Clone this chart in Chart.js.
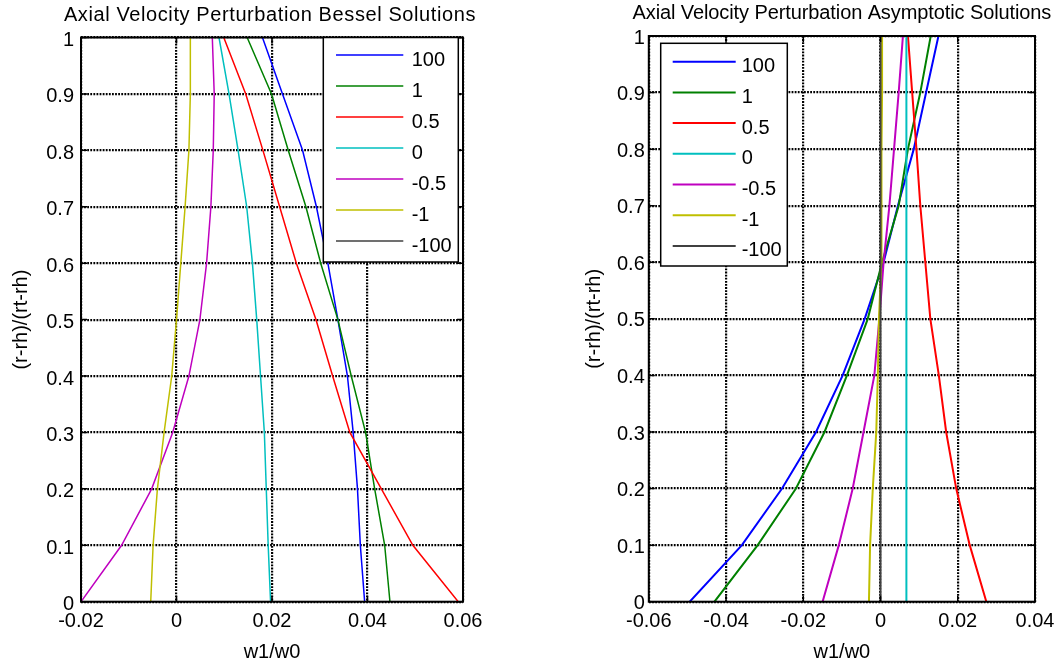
<!DOCTYPE html>
<html>
<head>
<meta charset="utf-8">
<title>Axial Velocity Perturbation</title>
<script src="https://cdn.jsdelivr.net/npm/chart.js@4.4.0/dist/chart.umd.min.js"></script>
<style>
    body { margin: 0; background: #fff; }
    #wrap { position: relative; width: 1057px; height: 666px; }
    .pane { position: absolute; top: 0; }
</style>
</head>
<body>
<div id="wrap">
    <div class="pane" style="left:0"><canvas id="besselChart" width="530" height="666"></canvas></div>
    <div class="pane" style="left:530px"><canvas id="asymChart" width="527" height="666"></canvas></div>
</div>
<script>
// Span stations (r-rh)/(rt-rh)
const span = [0, 0.1, 0.2, 0.3, 0.4, 0.5, 0.6, 0.7, 0.8, 0.9, 1];

// Legend entries and MATLAB line colours
const seriesNames = ['100', '1', '0.5', '0', '-0.5', '-1', '-100'];
const lineColors = ['#0000ff', '#008000', '#ff0000', '#00bfbf', '#bf00bf', '#bfbf00', '#404040'];

// Bessel solutions: w1/w0 at each span station
const bessel100 = [0.0394, 0.0385, 0.0379, 0.0370, 0.0358, 0.0338, 0.0317, 0.0293, 0.0264, 0.0222, 0.0180];
const bessel1 = [0.0447, 0.0436, 0.0415, 0.0396, 0.0366, 0.0338, 0.0302, 0.0271, 0.0234, 0.0199, 0.0148];
const besselHalf = [0.0590, 0.0495, 0.0429, 0.0363, 0.0327, 0.0292, 0.0251, 0.0216, 0.0181, 0.0145, 0.0099];
const bessel0 = [0.0197, 0.0192, 0.0188, 0.0184, 0.0176, 0.0168, 0.0159, 0.0147, 0.0129, 0.0110, 0.0089];
const besselNegHalf = [-0.0200, -0.0115, -0.0052, -0.0008, 0.0026, 0.0049, 0.0063, 0.0072, 0.0077, 0.0079, 0.0075];
const besselNeg1 = [-0.0054, -0.0049, -0.0040, -0.0026, -0.0010, 0.0000, 0.0009, 0.0018, 0.0026, 0.0029, 0.0029];
const besselNeg100 = [];

// Asymptotic solutions: w1/w0 at each span station
const asym100 = [-0.0494, -0.0359, -0.0255, -0.0167, -0.0098, -0.0041, 0.0008, 0.0045, 0.0086, 0.0118, 0.0150];
const asym1 = [-0.0430, -0.0318, -0.0219, -0.0145, -0.0087, -0.0033, 0.0004, 0.0047, 0.0071, 0.0103, 0.0130];
const asymHalf = [0.0274, 0.0231, 0.0196, 0.0170, 0.0151, 0.0129, 0.0116, 0.0103, 0.0093, 0.0082, 0.0071];
const asym0 = [0.0067, 0.0067, 0.0067, 0.0067, 0.0067, 0.0067, 0.0067, 0.0067, 0.0067, 0.0067, 0.0067];
const asymNegHalf = [-0.0150, -0.0108, -0.0072, -0.0044, -0.0016, -0.0003, 0.0008, 0.0023, 0.0035, 0.0047, 0.0058];
const asymNeg1 = [-0.0030, -0.0027, -0.0020, -0.0011, -0.0007, -0.0004, 0.0002, 0.0002, 0.0003, 0.0004, 0.0004];
const asymNeg100 = [0, 0, 0, 0, 0, 0, 0, 0, 0, 0, 0];

Chart.defaults.font.family = "'Liberation Sans', Arial, sans-serif";
Chart.defaults.font.size = 20;
Chart.defaults.color = '#000';

// Box, inward tick marks and title, MATLAB style
const axesFrame = {
    id: 'axesFrame',
    afterDatasetsDraw(chart, args, opts) {
        const ctx = chart.ctx;
        const a = chart.chartArea;
        const sx = chart.scales.x, sy = chart.scales.y;
        ctx.save();
        ctx.setLineDash([]);
        ctx.strokeStyle = '#000';
        ctx.lineWidth = 1.5;
        ctx.beginPath();
        sx.ticks.forEach(t => {
            const px = sx.getPixelForValue(t.value);
            ctx.moveTo(px, a.bottom); ctx.lineTo(px, a.bottom - 6);
            ctx.moveTo(px, a.top); ctx.lineTo(px, a.top + 6);
        });
        sy.ticks.forEach(t => {
            const py = sy.getPixelForValue(t.value);
            ctx.moveTo(a.left, py); ctx.lineTo(a.left + 6, py);
            ctx.moveTo(a.right, py); ctx.lineTo(a.right - 6, py);
        });
        ctx.stroke();
        ctx.lineWidth = 2;
        ctx.strokeRect(a.left, a.top, a.right - a.left, a.bottom - a.top);

        ctx.fillStyle = '#000';
        ctx.font = "20px 'Liberation Sans', Arial, sans-serif";
        ctx.letterSpacing = opts.spacing + 'px';
        ctx.textAlign = 'center';
        ctx.textBaseline = 'middle';
        ctx.fillText(opts.text, (a.left + a.right) / 2 + opts.dx, opts.y);
        ctx.restore();
    }
};

// Boxed legend drawn inside the axes
const boxLegend = {
    id: 'boxLegend',
    afterDraw(chart, args, opts) {
        const ctx = chart.ctx;
        const [x1, y1, x2, y2] = opts.box;
        ctx.save();
        ctx.fillStyle = '#fff';
        ctx.fillRect(x1, y1, x2 - x1, y2 - y1);
        ctx.strokeStyle = '#000';
        ctx.lineWidth = 1.5;
        ctx.strokeRect(x1, y1, x2 - x1, y2 - y1);
        ctx.font = "20px 'Liberation Sans', Arial, sans-serif";
        ctx.textAlign = 'left';
        ctx.textBaseline = 'middle';
        chart.data.datasets.forEach((ds, i) => {
            const y = opts.firstRow + i * opts.rowStep;
            ctx.strokeStyle = ds.borderColor;
            ctx.lineWidth = ds.borderWidth;
            ctx.beginPath();
            ctx.moveTo(opts.lineX[0], y);
            ctx.lineTo(opts.lineX[1], y);
            ctx.stroke();
            ctx.fillStyle = '#000';
            ctx.fillText(ds.label, opts.textX, y + 5);
        });
        ctx.restore();
    }
};

function toPoints(values) {
    return values.map((v, i) => ({ x: v, y: span[i] }));
}

function makeChart(id, cfg) {
    // later series are drawn on top, as plot() does
    const datasets = cfg.series.map((vals, i) => ({
        label: seriesNames[i],
        data: toPoints(vals),
        showLine: true,
        borderColor: lineColors[i],
        borderWidth: cfg.lineWidth,
        pointRadius: 0,
        fill: false,
        tension: 0,
        order: cfg.series.length - i
    }));

    return new Chart(document.getElementById(id).getContext('2d'), {
        type: 'scatter',
        data: { datasets: datasets },
        options: {
            responsive: false,
            animation: false,
            events: [],
            layout: { padding: { left: cfg.padLeft, right: cfg.padRight, top: cfg.padTop, bottom: 0 } },
            scales: {
                x: {
                    type: 'linear',
                    min: cfg.xMin,
                    max: cfg.xMax,
                    afterFit: s => {
                        s.height = 666 - cfg.plotBottom;
                        s.paddingLeft = 0;
                        s.paddingRight = 0;
                    },
                    ticks: {
                        stepSize: 0.02,
                        padding: 8,
                        maxRotation: 0,
                        autoSkip: false,
                        callback: v => String(Number(v.toFixed(2)))
                    },
                    grid: { color: '#000', lineWidth: 2.2, drawTicks: false },
                    border: { display: false, dash: [1.8, 1.3] },
                    title: { display: true, text: 'w1/w0', padding: { top: 4, bottom: 2 } }
                },
                y: {
                    type: 'linear',
                    min: 0,
                    max: 1,
                    afterFit: s => {
                        s.width = cfg.yAxisWidth;
                        s.paddingTop = 0;
                        s.paddingBottom = 0;
                    },
                    ticks: {
                        stepSize: 0.1,
                        padding: cfg.yTickPad,
                        labelOffset: cfg.yLabelShift,
                        autoSkip: false,
                        callback: v => String(Number(v.toFixed(1)))
                    },
                    grid: { color: '#000', lineWidth: 2.2, drawTicks: false },
                    border: { display: false, dash: [1.8, 1.3] },
                    title: { display: true, text: '(r-rh)/(rt-rh)', padding: { top: 4, bottom: 4 } }
                }
            },
            plugins: {
                legend: { display: false },
                tooltip: { enabled: false },
                axesFrame: { text: cfg.title, y: cfg.titleY, dx: cfg.titleDx, spacing: cfg.titleSpacing },
                boxLegend: cfg.legend
            }
        },
        plugins: [axesFrame, boxLegend]
    });
}

makeChart('besselChart', {
    title: 'Axial Velocity Perturbation Bessel Solutions',
    titleY: 15,
    titleDx: -2,
    titleSpacing: 0.6,
    series: [bessel100, bessel1, besselHalf, bessel0, besselNegHalf, besselNeg1, besselNeg100],
    lineWidth: 1.5,
    xMin: -0.02,
    xMax: 0.06,
    padLeft: 5,
    padRight: 67,
    padTop: 37.5,
    plotBottom: 601.7,
    yAxisWidth: 76,
    yTickPad: 7,
    yLabelShift: 3,
    legend: { box: [323.3, 37.5, 458.3, 262], lineX: [336, 403.3], textX: 411.7, firstRow: 55, rowStep: 31 }
});

makeChart('asymChart', {
    title: 'Axial Velocity Perturbation Asymptotic Solutions',
    titleY: 13.5,
    titleDx: 0,
    titleSpacing: -0.1,
    series: [asym100, asym1, asymHalf, asym0, asymNegHalf, asymNeg1, asymNeg100],
    lineWidth: 2,
    xMin: -0.06,
    xMax: 0.04,
    padLeft: 48,
    padRight: 22,
    padTop: 36,
    plotBottom: 601.7,
    yAxisWidth: 70.8,
    yTickPad: 4,
    yLabelShift: 2,
    legend: { box: [130.7, 43.3, 257.3, 266], lineX: [142.7, 205.7], textX: 211.7, firstRow: 61.7, rowStep: 30.7 }
});
</script>
</body>
</html>
